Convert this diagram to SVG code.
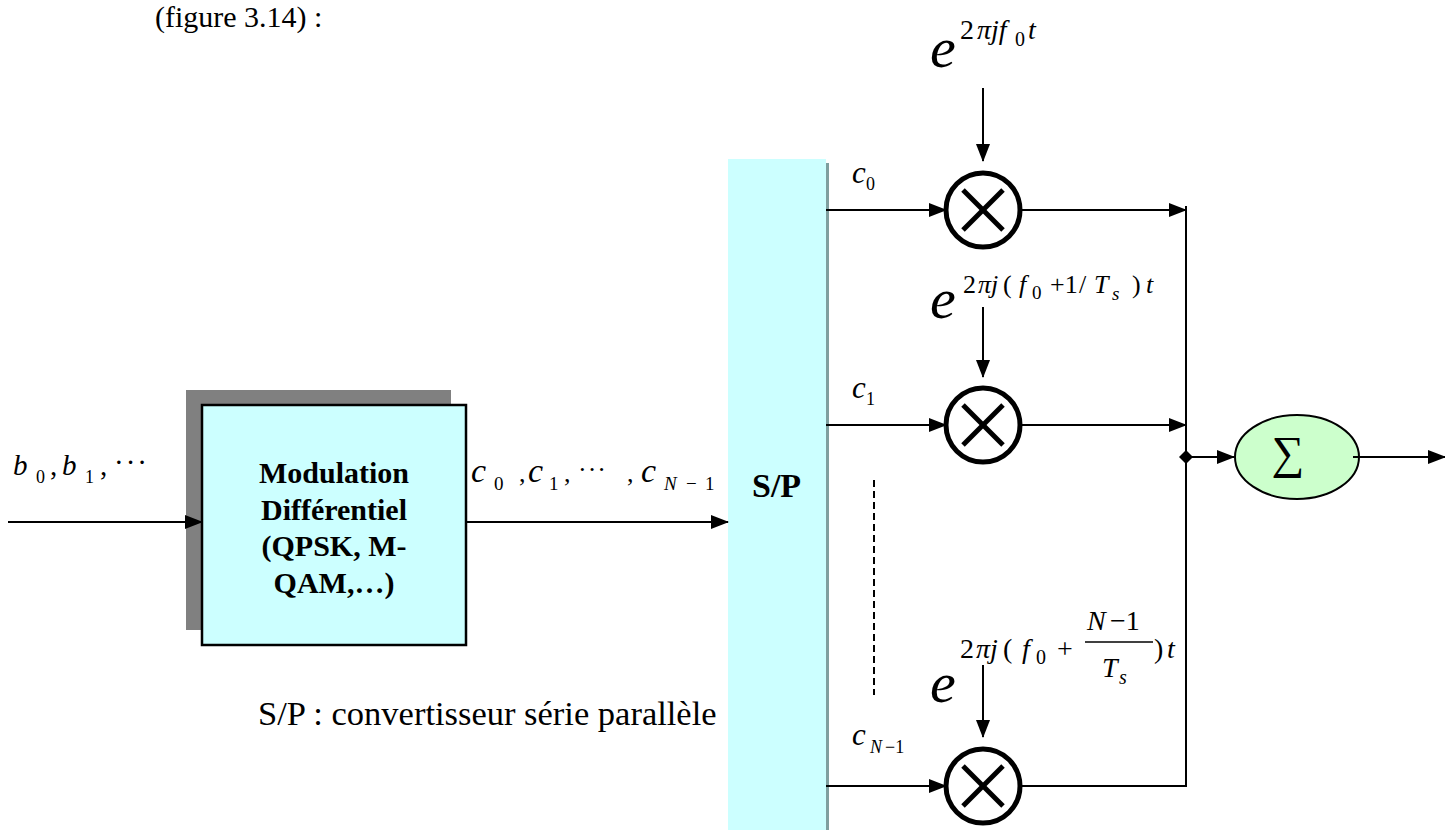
<svg xmlns="http://www.w3.org/2000/svg" width="1445" height="830" viewBox="0 0 1445 830">
<defs>
<style>
.t{font-family:"Liberation Serif","Times New Roman",serif;fill:#000}
.i{font-style:italic}
.b{font-weight:bold}
.ln{stroke:#000;stroke-width:2;fill:none}
.mul{stroke:#000;stroke-width:5;fill:#fff}
.x{stroke:#000;stroke-width:5}
</style>
<marker id="ah" markerWidth="18" markerHeight="14" refX="17" refY="7" orient="auto" markerUnits="userSpaceOnUse">
<path d="M0,0 L18,7 L0,14 Z" fill="#000"/>
</marker>
</defs>
<rect width="1445" height="830" fill="#fff"/>
<text class="t" x="155" y="27" font-size="30">(figure 3.14) :</text>

<g id="modulation">
<rect x="186" y="390" width="265" height="240" fill="#808080"/>
<rect x="202" y="405" width="264" height="240" fill="#CCFFFF" stroke="#000" stroke-width="2.5"/>
<text class="t b" x="334" y="483" font-size="30" text-anchor="middle">Modulation</text>
<text class="t b" x="334" y="520" font-size="30" text-anchor="middle">Différentiel</text>
<text class="t b" x="334" y="556" font-size="30" text-anchor="middle">(QPSK, M-</text>
<text class="t b" x="334" y="593" font-size="30" text-anchor="middle">QAM,…)</text>
</g>

<g id="sp">
<rect x="728" y="159" width="98" height="671" fill="#CCFFFF"/>
<rect x="826" y="163" width="3" height="667" fill="#7F9F9F"/>
<text class="t b" x="752" y="497" font-size="34">S/P</text>
</g>

<g id="mult0">
<circle cx="983" cy="210" r="37" class="mul"/>
<line x1="963" y1="190" x2="1003" y2="230" class="x"/>
<line x1="1003" y1="190" x2="963" y2="230" class="x"/>
</g>
<g id="mult1">
<circle cx="983" cy="425" r="37" class="mul"/>
<line x1="963" y1="405" x2="1003" y2="445" class="x"/>
<line x1="1003" y1="405" x2="963" y2="445" class="x"/>
</g>
<g id="mult2">
<circle cx="983" cy="786" r="37" class="mul"/>
<line x1="963" y1="766" x2="1003" y2="806" class="x"/>
<line x1="1003" y1="766" x2="963" y2="806" class="x"/>
</g>

<g id="sum">
<ellipse cx="1297" cy="457" rx="62" ry="42" fill="#CCFFCC" stroke="#000" stroke-width="2"/>
<text class="t" x="1288" y="468" font-size="46" text-anchor="middle">∑</text>
</g>

<g id="connectors">
<line x1="8" y1="522" x2="202" y2="522" class="ln" marker-end="url(#ah)"/>
<line x1="466" y1="522" x2="728" y2="522" class="ln" marker-end="url(#ah)"/>
<line x1="826" y1="210" x2="946" y2="210" class="ln" marker-end="url(#ah)"/>
<line x1="826" y1="425" x2="946" y2="425" class="ln" marker-end="url(#ah)"/>
<line x1="826" y1="786" x2="946" y2="786" class="ln" marker-end="url(#ah)"/>
<line x1="983" y1="88" x2="983" y2="161" class="ln" marker-end="url(#ah)"/>
<line x1="983" y1="307" x2="983" y2="377" class="ln" marker-end="url(#ah)"/>
<line x1="983" y1="665" x2="983" y2="737" class="ln" marker-end="url(#ah)"/>
<line x1="1020" y1="210" x2="1186" y2="210" class="ln" marker-end="url(#ah)"/>
<line x1="1020" y1="425" x2="1186" y2="425" class="ln" marker-end="url(#ah)"/>
<line x1="1020" y1="786" x2="1187" y2="786" class="ln"/>
<line x1="1186" y1="206" x2="1186" y2="787" class="ln"/>
<path d="M1179,457 L1186,450 L1193,457 L1186,464 Z" fill="#000"/>
<line x1="1186" y1="457" x2="1234" y2="457" class="ln" marker-end="url(#ah)"/>
<line x1="1353" y1="457" x2="1445" y2="457" class="ln" marker-end="url(#ah)"/>
<line x1="874" y1="480" x2="874" y2="695" stroke="#000" stroke-width="2" stroke-dasharray="7,4"/>
</g>

<g id="labels">
<text class="t i" font-size="29"><tspan x="13" y="475">b</tspan><tspan x="36" y="483" font-size="18" font-style="normal">0</tspan><tspan x="50" y="475" font-style="normal">,</tspan><tspan x="62" y="475">b</tspan><tspan x="85" y="483" font-size="18" font-style="normal">1</tspan><tspan x="100" y="475" font-style="normal">,</tspan><tspan x="114" y="472" font-style="normal" letter-spacing="2">···</tspan></text>
<text class="t i" font-size="34"><tspan x="471" y="482">c</tspan><tspan x="494" y="490" font-size="19" font-style="normal">0</tspan><tspan x="519" y="482" font-style="normal" font-size="26">,</tspan><tspan x="528" y="482">c</tspan><tspan x="549" y="490" font-size="19" font-style="normal">1</tspan><tspan x="564" y="482" font-style="normal" font-size="26">,</tspan><tspan x="578" y="478" font-style="normal" font-size="26" letter-spacing="1">···</tspan><tspan x="627" y="482" font-style="normal" font-size="26">,</tspan><tspan x="641" y="482">c</tspan><tspan x="664" y="490" font-size="19">N</tspan><tspan x="686" y="490" font-size="19" font-style="normal">−</tspan><tspan x="705" y="490" font-size="19" font-style="normal">1</tspan></text>
<text class="t i" font-size="31"><tspan x="852" y="183">c</tspan><tspan x="866" y="190" font-size="18" font-style="normal">0</tspan></text>
<text class="t i" font-size="31"><tspan x="852" y="398">c</tspan><tspan x="866" y="405" font-size="18" font-style="normal">1</tspan></text>
<text class="t i" font-size="31"><tspan x="852" y="745">c</tspan><tspan x="870" y="753" font-size="18">N</tspan><tspan x="885" y="753" font-size="18" font-style="normal">−1</tspan></text>
<text class="t" x="258" y="725" font-size="34.5">S/P : convertisseur série parallèle</text>

<text class="t i" font-size="58"><tspan x="930" y="67">e</tspan></text>
<text class="t" font-size="28"><tspan x="960" y="39">2</tspan><tspan x="977" y="39" font-style="italic">πjf</tspan><tspan x="1015" y="46" font-size="20">0</tspan><tspan x="1028" y="39" font-style="italic">t</tspan></text>

<text class="t i" font-size="58"><tspan x="930" y="318">e</tspan></text>
<text class="t" font-size="26"><tspan x="963" y="293">2</tspan><tspan x="978" y="293" font-style="italic">πj</tspan><tspan x="1003" y="293">(</tspan><tspan x="1019" y="293" font-style="italic">f</tspan><tspan x="1032" y="299" font-size="19">0</tspan><tspan x="1050" y="293">+1</tspan><tspan x="1079" y="293">/</tspan><tspan x="1094" y="293" font-style="italic">T</tspan><tspan x="1112" y="300" font-size="19" font-style="italic">s</tspan><tspan x="1132" y="293">)</tspan><tspan x="1146" y="293" font-style="italic">t</tspan></text>

<text class="t i" font-size="58"><tspan x="930" y="702">e</tspan></text>
<text class="t" font-size="28"><tspan x="960" y="658">2</tspan><tspan x="976" y="658" font-style="italic">πj</tspan><tspan x="1003" y="658">(</tspan><tspan x="1022" y="658" font-style="italic">f</tspan><tspan x="1036" y="664" font-size="20">0</tspan><tspan x="1057" y="658">+</tspan><tspan x="1087" y="630" font-style="italic">N</tspan><tspan x="1110" y="630">−1</tspan><tspan x="1102" y="677" font-style="italic">T</tspan><tspan x="1119" y="684" font-size="20" font-style="italic">s</tspan><tspan x="1154" y="658">)</tspan><tspan x="1167" y="658" font-style="italic">t</tspan></text>
<line x1="1085" y1="642" x2="1153" y2="642" stroke="#000" stroke-width="1.5"/>
</g>
</svg>
